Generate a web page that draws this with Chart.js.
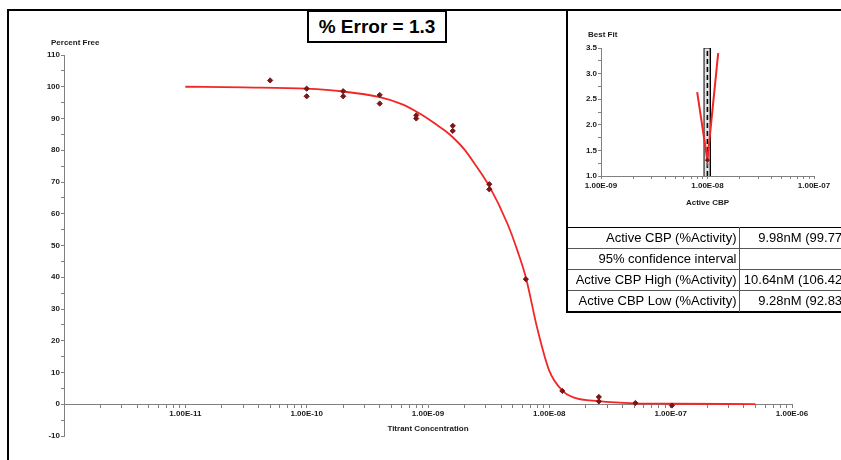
<!DOCTYPE html>
<html>
<head>
<meta charset="utf-8">
<script src="https://cdn.jsdelivr.net/npm/chart.js@4.4.1/dist/chart.umd.min.js"></script>
<style>
  body { margin: 0; width: 841px; height: 460px; overflow: hidden; position: relative; background: #fff;
         font-family: "Liberation Sans", Arial, sans-serif; }
  canvas { position: absolute; }
  .frame { position: absolute; left: 7px; top: 9px; width: 900px; height: 500px; box-sizing: border-box;
           border-left: 2px solid #000; border-top: 2px solid #000; }
  .axis-caption { position: absolute; font-size: 8px; font-weight: bold; line-height: 10px; color: #1a1a1a; white-space: nowrap; }
  .error-box { position: absolute; left: 307px; top: 10px; width: 140px; height: 33px; box-sizing: border-box;
               border: 2px solid #000; background: #fff; font-size: 19px; font-weight: bold; text-align: center; line-height: 29px; }
  .inset { position: absolute; left: 566px; top: 9px; width: 320px; height: 304px; box-sizing: border-box;
           border: 2px solid #000; background: #fff; }
  .inset canvas { left: 0; top: 0; }
  .results { position: absolute; left: 0; top: 216px; border-collapse: collapse; font-size: 13px; color: #000; }
  .results td { height: 21px; padding: 0; border-top: 1px solid #555; white-space: nowrap; line-height: 16px; }
  .results tr:first-child td { border-top: 1px solid #000; }
  .results td.name { width: 171px; text-align: right; padding-right: 2px; border-right: 1px solid #555; box-sizing: border-box; }
  .results td.val { width: 122px; text-align: right; padding-right: 3px; box-sizing: border-box; }
</style>
</head>
<body>
<canvas id="mainChart" width="841" height="460" style="left:0;top:0"></canvas>
<div class="frame"></div>
<div class="axis-caption" style="left:51px;top:38px">Percent Free</div>
<div class="inset">
  <canvas id="insetChart" width="273" height="216"></canvas>
  <div class="axis-caption" style="left:20px;top:19px">Best Fit</div>
  <table class="results" id="results"></table>
</div>
<div class="error-box" id="errorBox"></div>
<script>
// measured points (titrant concentration, % free)
const titrantConc = [5e-11, 1e-10, 1e-10, 2e-10, 2e-10, 4e-10, 4e-10, 8e-10, 8e-10, 1.6e-9, 1.6e-9,
                     3.2e-9, 3.2e-9, 6.4e-9, 1.28e-8, 2.56e-8, 2.56e-8, 5.12e-8, 1.024e-7];
const percentFree = [102.0, 99.4, 97.0, 98.6, 97.0, 97.4, 94.7, 91.0, 90.0, 87.7, 86.1,
                     69.3, 67.7, 39.4, 4.2, 2.3, 0.9, 0.4, -0.4];

// fitted curve
const fitConc = [1e-11, 3e-11, 1e-10, 2e-10, 4e-10, 6e-10, 8e-10, 1e-9, 1.2e-9, 1.4e-9, 1.6e-9, 2e-9,
                 2.4e-9, 3.2e-9, 4.5e-9, 5.5e-9, 6.4e-9, 8e-9, 1e-8, 1.28e-8, 1.6e-8, 2.56e-8,
                 5.12e-8, 1e-7, 5e-7];
const fitFree = [100, 99.8, 99.4, 98.5, 96.7, 94.6, 92.2, 89.9, 87.8, 86.0, 84.1, 80.2,
                 76.0, 68.7, 57.0, 48.0, 40.0, 23.5, 10.5, 4.3, 2.1, 1.0,
                 0.3, 0.15, 0.05];

// best fit inset
const scanConc = [8.0e-9, 9.98e-9, 1.26e-8];
const scanError = [2.64, 1.31, 3.40];
const bestConc = 9.98e-9;
const ciLow = 9.28e-9;
const ciHigh = 1.064e-8;
const errorRange = [1.0, 3.5];

const percentError = 1.3;
const tableLabels = ['Active CBP (%Activity)', '95% confidence interval', 'Active CBP High (%Activity)', 'Active CBP Low (%Activity)'];
const tableValues = ['9.98nM (99.77%)', '', '10.64nM (106.42%)', '9.28nM (92.83%)'];

Chart.defaults.font.family = '"Liberation Sans", Arial, sans-serif';
Chart.defaults.color = '#1a1a1a';

const tickFont = { size: 8, weight: 'bold' };
const axisGrey = '#808080';

function sciLabel(v) {
    const e = Math.round(Math.log10(v));
    const sign = e < 0 ? '-' : '+';
    return '1.00E' + sign + String(Math.abs(e)).padStart(2, '0');
}
function isDecade(v) {
    const l = Math.log10(v);
    return Math.abs(l - Math.round(l)) < 1e-6;
}
// log scale in v4 adds 1.5x ticks, the original only has 1..9
function keepIntegerMantissa(scale) {
    scale.ticks = scale.ticks.filter(t => {
        const m = t.value / Math.pow(10, Math.floor(Math.log10(t.value) + 1e-9));
        return Math.abs(m - Math.round(m)) < 1e-6;
    });
}

document.getElementById('errorBox').textContent = '% Error = ' + percentError;
document.getElementById('results').innerHTML = tableLabels.map((l, i) =>
    `<tr><td class="name">${l}</td><td class="val">${tableValues[i]}</td></tr>`).join('');

// main titration chart
new Chart(document.getElementById('mainChart'), {
    type: 'line',
    data: {
        datasets: [
            {
                type: 'scatter',
                data: titrantConc.map((x, i) => ({ x, y: percentFree[i] })),
                pointStyle: 'rectRot',
                pointRadius: 2.6,
                backgroundColor: '#7a1616',
                borderColor: '#7a1616',
                order: 0
            },
            {
                data: fitConc.map((x, i) => ({ x, y: fitFree[i] })),
                borderColor: '#f22626',
                borderWidth: 1.8,
                pointRadius: 0,
                cubicInterpolationMode: 'monotone',
                order: 1
            }
        ]
    },
    options: {
        responsive: false,
        animation: false,
        events: [],
        layout: { padding: { left: 0, right: 49, top: 55, bottom: 24 } },
        plugins: { legend: { display: false }, tooltip: { enabled: false } },
        scales: {
            x: {
                type: 'logarithmic',
                position: { y: 0 },
                min: 1e-12,
                max: 1e-6,
                afterBuildTicks: keepIntegerMantissa,
                afterFit(s) { s.height = 33; },
                grid: { drawOnChartArea: false, tickLength: 3, color: axisGrey },
                border: { color: axisGrey },
                ticks: {
                    autoSkip: false, maxRotation: 0, padding: 1.5, font: tickFont,
                    callback: v => (isDecade(v) && v > 1.5e-12) ? sciLabel(v) : ''
                },
                title: { display: true, text: 'Titrant Concentration', font: tickFont, padding: { top: 0, bottom: 4 } }
            },
            y: {
                min: -10,
                max: 110,
                afterFit(s) { s.width = 64; },
                grid: { drawOnChartArea: false, tickLength: 3, color: axisGrey },
                border: { color: axisGrey },
                ticks: {
                    stepSize: 5, autoSkip: false, padding: 1, font: tickFont,
                    callback: v => (v % 10 === 0 ? String(v) : '')
                }
            }
        }
    }
});

// best fit inset
new Chart(document.getElementById('insetChart'), {
    type: 'line',
    data: {
        datasets: [
            {
                data: [{ x: ciLow, y: errorRange[0] }, { x: ciLow, y: errorRange[1] },
                       { x: ciHigh, y: errorRange[1] }, { x: ciHigh, y: errorRange[0] }],
                borderColor: '#000',
                borderWidth: 1,
                backgroundColor: '#e4e4e4',
                fill: 'start',
                pointRadius: 0,
                order: 3
            },
            {
                data: [{ x: bestConc, y: errorRange[0] }, { x: bestConc, y: errorRange[1] }],
                borderColor: '#000',
                borderWidth: 1.6,
                borderDash: [5, 3],
                pointRadius: 0,
                order: 2
            },
            {
                data: scanConc.map((x, i) => ({ x, y: scanError[i] })),
                borderColor: '#f22626',
                borderWidth: 2,
                pointRadius: 0,
                order: 1
            },
            {
                type: 'scatter',
                data: [{ x: bestConc, y: Math.min(...scanError) }],
                pointStyle: 'rectRot',
                pointRadius: 2,
                backgroundColor: '#7a1616',
                borderColor: '#7a1616',
                order: 0
            }
        ]
    },
    options: {
        responsive: false,
        animation: false,
        events: [],
        layout: { padding: { left: 0, right: 27, top: 37, bottom: 0 } },
        plugins: { legend: { display: false }, tooltip: { enabled: false } },
        scales: {
            x: {
                type: 'logarithmic',
                min: 1e-9,
                max: 1e-7,
                afterBuildTicks: keepIntegerMantissa,
                afterFit(s) { s.height = 51; },
                grid: { drawOnChartArea: false, tickLength: 3, color: axisGrey },
                border: { color: axisGrey },
                ticks: {
                    autoSkip: false, maxRotation: 0, padding: 2, font: tickFont,
                    callback: v => (isDecade(v) ? sciLabel(v) : '')
                },
                title: { display: true, text: 'Active CBP', font: tickFont, padding: { top: 0, bottom: 19.5 } }
            },
            y: {
                min: errorRange[0],
                max: errorRange[1],
                afterFit(s) { s.width = 33; },
                grid: { drawOnChartArea: false, tickLength: 3, color: axisGrey },
                border: { color: axisGrey },
                ticks: {
                    stepSize: 0.25, autoSkip: false, padding: 1, font: tickFont,
                    callback: v => (Math.abs(v * 2 - Math.round(v * 2)) < 1e-9 ? v.toFixed(1) : '')
                }
            }
        }
    }
});
</script>
</body>
</html>
